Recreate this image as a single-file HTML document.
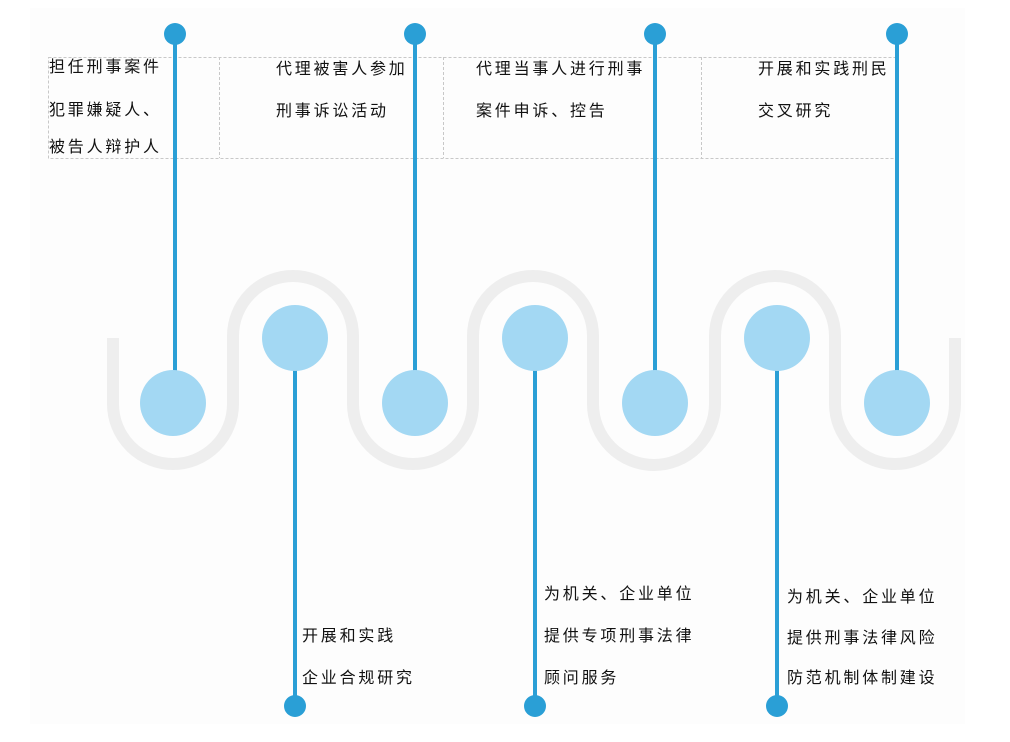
<!DOCTYPE html>
<html><head><meta charset="utf-8"><style>
body{margin:0;width:1010px;height:742px;background:#fff;position:relative;overflow:hidden;font-family:"Liberation Sans","Noto Sans CJK SC",sans-serif;}
.t{position:absolute;font-size:16px;letter-spacing:2.8px;color:#111;white-space:nowrap;}
</style></head><body>
<svg width="1010" height="742" style="position:absolute;left:0;top:0">
<rect x="30" y="8" width="935" height="716" fill="#fdfdfd"/>
<path d="M113 338 V404 A60 60 0 0 0 233 404 V336 A60 60 0 0 1 353 336 V404 A60 60 0 0 0 473 404 V336 A60 60 0 0 1 593 336 V404 A60 60 0 0 0 715 404 V336 A60 60 0 0 1 835 336 V404 A60 60 0 0 0 955 404 V338" fill="none" stroke="#eeeeee" stroke-width="12"/>
<g stroke="#c8c8c8" stroke-width="1" stroke-dasharray="3,2" fill="none">
<rect x="48.5" y="57.5" width="847" height="101"/>
<line x1="219.5" y1="57" x2="219.5" y2="158"/>
<line x1="443.5" y1="57" x2="443.5" y2="158"/>
<line x1="701.5" y1="57" x2="701.5" y2="158"/>
</g>
<g stroke="#2a9fd6" stroke-width="4">
<line x1="175" y1="33" x2="175" y2="372"/>
<line x1="415" y1="33" x2="415" y2="372"/>
<line x1="655" y1="33" x2="655" y2="372"/>
<line x1="897" y1="33" x2="897" y2="372"/>
<line x1="295" y1="370" x2="295" y2="706"/>
<line x1="535" y1="370" x2="535" y2="706"/>
<line x1="777" y1="370" x2="777" y2="706"/>
</g>
<g fill="#2a9fd6">
<circle cx="175" cy="34" r="11"/><circle cx="415" cy="34" r="11"/><circle cx="655" cy="34" r="11"/><circle cx="897" cy="34" r="11"/>
<circle cx="295" cy="706" r="11"/><circle cx="535" cy="706" r="11"/><circle cx="777" cy="706" r="11"/>
</g>
<g fill="#a3d8f3">
<circle cx="173" cy="403" r="33"/><circle cx="415" cy="403" r="33"/><circle cx="655" cy="403" r="33"/><circle cx="897" cy="403" r="33"/>
<circle cx="295" cy="338" r="33"/><circle cx="535" cy="338" r="33"/><circle cx="777" cy="338" r="33"/>
</g>
</svg>
<div class="t" style="left:49px;top:53px">担任刑事案件</div>
<div class="t" style="left:49px;top:96px">犯罪嫌疑人、</div>
<div class="t" style="left:49px;top:133px">被告人辩护人</div>
<div class="t" style="left:276px;top:55px">代理被害人参加</div>
<div class="t" style="left:276px;top:97px">刑事诉讼活动</div>
<div class="t" style="left:476px;top:55px">代理当事人进行刑事</div>
<div class="t" style="left:476px;top:97px">案件申诉、控告</div>
<div class="t" style="left:758px;top:55px">开展和实践刑民</div>
<div class="t" style="left:758px;top:97px">交叉研究</div>
<div class="t" style="left:302px;top:622px">开展和实践</div>
<div class="t" style="left:302px;top:664px">企业合规研究</div>
<div class="t" style="left:544px;top:580px">为机关、企业单位</div>
<div class="t" style="left:544px;top:622px">提供专项刑事法律</div>
<div class="t" style="left:544px;top:664px">顾问服务</div>
<div class="t" style="left:787px;top:583px">为机关、企业单位</div>
<div class="t" style="left:787px;top:624px">提供刑事法律风险</div>
<div class="t" style="left:787px;top:664px">防范机制体制建设</div>
</body></html>
